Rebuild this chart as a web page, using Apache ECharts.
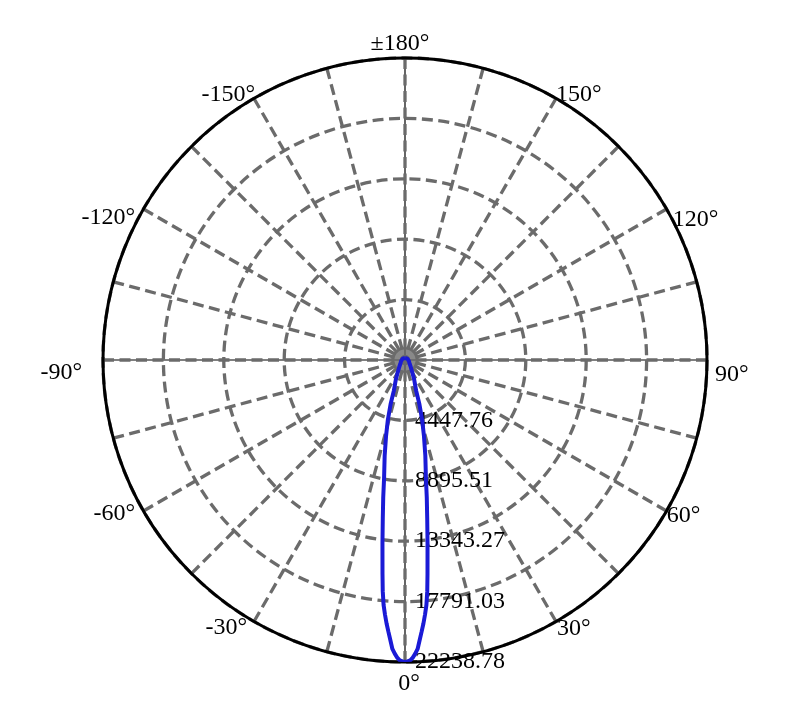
<!DOCTYPE html>
<html>
<head>
<meta charset="utf-8">
<script src="https://cdn.jsdelivr.net/npm/echarts@6/dist/echarts.min.js"></script>
<style>
html,body{margin:0;padding:0;background:#fff;}
#chart{width:812px;height:712px;}
</style>
</head>
<body>
<div id="chart"></div>
<script>
// Luminous intensity (cd) versus polar angle (degrees, 0 = beam axis)
const anglesDeg = [-180,-150,-120,-90,-75,-60,-50,-40,-30,-25,-20,-18,-16,-14,-12,-10,-9,-8,-7,-6,-5.5,-5,-4.5,-4,-3.5,-3,-2.5,-2,-1.5,-1,-0.5,
  0,0.5,1,1.5,2,2.5,3,3.5,4,4.5,5,5.5,6,7,8,9,10,12,14,16,18,20,25,30,40,50,60,75,90,120,150,180];
const intensity = [150,170,200,250,300,350,450,650,1100,1600,2400,3450,4580,5770,7200,8880,10250,11750,13620,15850,17100,18100,18800,19450,20040,20650,21300,21640,21920,22120,22200,
  22238.78,22200,22120,21920,21640,21300,20650,20040,19450,18800,18100,17100,15850,13620,11750,10250,8880,7200,5770,4580,3450,2400,1600,1100,650,450,350,300,250,200,170,150];
const radiusMax = 22238.784;
const ringCount = 5;
const angleLabelStep = 30;
const angleGridStep = 15;
// the pole of the diagram, where the grid rays converge
const pole = [[0, 0]];

// label nudges per angle: [padTop, padRight, padBottom, padLeft]
const labelPad = {
  0:[46,0,0,8], 30:[16,0,0,2], 60:[10,0,0,2], 90:[30,0,0,10], 120:[20,0,0,8], 150:[0,0,10,1],
  180:[0,10,32,0], 210:[0,0,10,0], 240:[16,10,0,0], 270:[26,23,0,0], 300:[6,10,0,0], 330:[14,8,0,0]
};
const FONT = 'Liberation Serif, Times New Roman, serif';
const rich = {};
Object.keys(labelPad).forEach(k => {
  rich['a' + k] = {fontFamily: FONT, fontSize: 24, color: '#000', lineHeight: 1, verticalAlign: 'middle', padding: labelPad[k]};
});

const chart = echarts.init(document.getElementById('chart'), null, {renderer: 'canvas'});
const seriesData = anglesDeg.map((a, i) => [intensity[i], a < 0 ? a + 360 : a]);

const gridLine = {color: '#6b6b6b', width: 3.3, type: [11, 5.5]};

const option = {
  backgroundColor: '#fff',
  animation: false,
  polar: [
    {center: [405, 360], radius: 302},
    {center: [405, 360], radius: 302},
    {center: [405, 360], radius: 302}
  ],
  angleAxis: [
    {
      polarIndex: 0, type: 'value', min: 0, max: 360, interval: angleGridStep,
      startAngle: -90, clockwise: false, z: 1,
      axisLine: {show: false},
      axisTick: {show: false},
      splitLine: {show: true, lineStyle: gridLine},
      axisLabel: {
        margin: -2, fontFamily: FONT, fontSize: 24, color: '#000', rich: rich,
        formatter: function (v) {
          v = Math.round(v);
          if (v % angleLabelStep !== 0 || v === 360) return '';
          let t;
          if (v === 180) t = '\u00b1180\u00b0';
          else if (v > 180) t = (v - 360) + '\u00b0';
          else t = v + '\u00b0';
          return '{a' + v + '|' + t + '}';
        }
      }
    },
    {
      polarIndex: 1, type: 'value', min: 0, max: 360, interval: 90,
      startAngle: -90, clockwise: false, z: 0,
      axisLine: {show: false}, axisTick: {show: false}, axisLabel: {show: false},
      splitLine: {show: true, lineStyle: {color: '#000', width: 1.2, type: 'solid'}}
    },
    {
      polarIndex: 2, type: 'value', min: 0, max: 360, interval: 90,
      startAngle: -90, clockwise: false, z: 3,
      axisLine: {show: true, lineStyle: {color: '#000', width: 3}},
      axisTick: {show: false}, axisLabel: {show: false}, splitLine: {show: false}
    }
  ],
  radiusAxis: [
    {
      polarIndex: 0, type: 'value', min: 0, max: radiusMax, interval: radiusMax / ringCount, z: 2,
      axisLine: {show: false}, axisTick: {show: false},
      splitLine: {show: true, lineStyle: gridLine},
      axisLabel: {
        showMinLabel: false, margin: 10, fontFamily: FONT, fontSize: 24, color: '#000',
        formatter: v => v.toFixed(2)
      }
    },
    {polarIndex: 1, type: 'value', min: 0, max: radiusMax, show: false},
    {polarIndex: 2, type: 'value', min: 0, max: radiusMax, show: false}
  ],
  series: [{
    type: 'scatter', coordinateSystem: 'polar', polarIndex: 0, z: 3,
    symbol: 'circle', symbolSize: 24, silent: true,
    itemStyle: {color: '#6b6b6b'},
    data: pole
  }, {
    type: 'line', coordinateSystem: 'polar', polarIndex: 0, z: 4,
    showSymbol: false, symbol: 'none', smooth: false,
    lineStyle: {color: '#1a1ad6', width: 4},
    data: seriesData
  }]
};
chart.setOption(option);
</script>
</body>
</html>
